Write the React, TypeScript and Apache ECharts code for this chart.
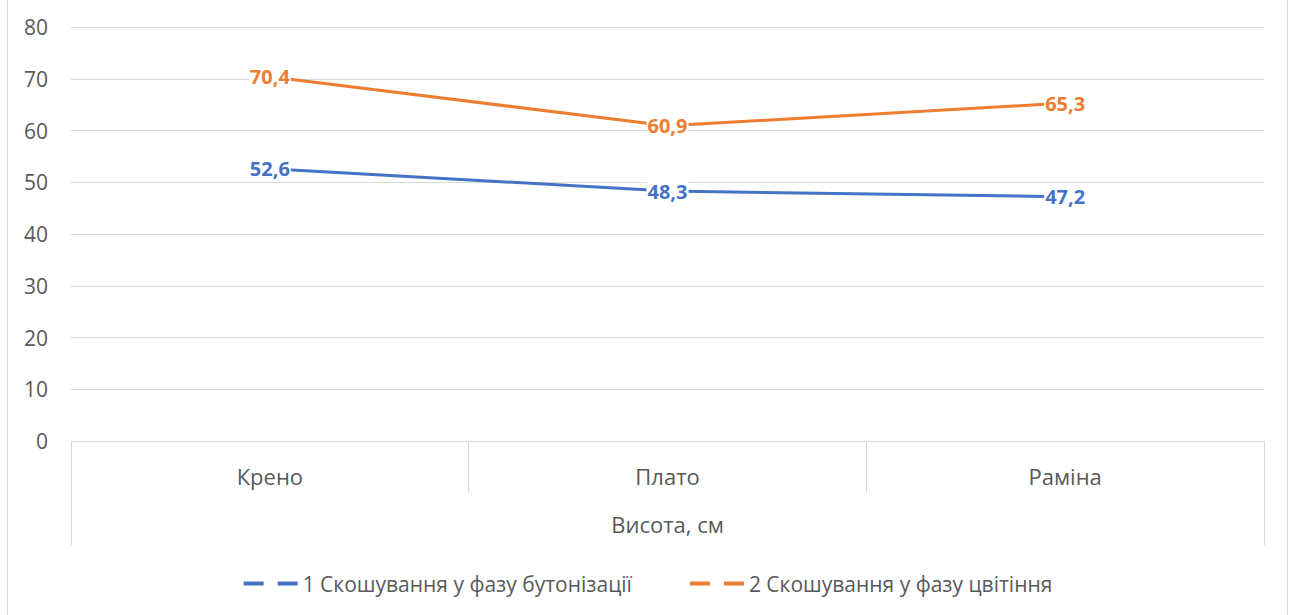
import React, { useEffect, useRef } from "react";
import * as echarts from "echarts";

const categories = ["Крено", "Плато", "Раміна"];
const outerCategory = ["Висота, см"];
const series1Name = "1 Скошування у фазу бутонізації";
const series2Name = "2 Скошування у фазу цвітіння";
const series1Values = [52.6, 48.3, 47.2];
const series2Values = [70.4, 60.9, 65.3];
const yTicks = { min: 0, max: 80, interval: 10 };

const BLUE = "#4472C4";
const ORANGE = "#ED7D31";
const GRID = "#d9d9d9";
const TEXT = "#595959";
const FONT = "'Open Sans', 'Noto Sans', sans-serif";

export default function App() {
  const ref = useRef<HTMLDivElement>(null);
  useEffect(() => {
    if (!ref.current) return;
    const chart = echarts.init(ref.current, undefined, { renderer: "svg" });
    const fmt = (p: any) => String(p.value).replace(".", ",");
    const legendIcon = "path://M0,0h20v4h-20z M34,0h20v4h-20z";
    const dataLabel = (color: string) => ({
      show: true,
      position: "inside",
      formatter: fmt,
      color,
      fontWeight: "bold",
      fontSize: 20,
      backgroundColor: "#fff",
      padding: [0, 1],
      fontFamily: FONT,
    });
    chart.setOption({
      animation: false,
      textStyle: { fontFamily: FONT },
      graphic: [
        {
          type: "rect",
          shape: { x: 7.5, y: -2, width: 1280, height: 620 },
          style: { fill: "none", stroke: GRID, lineWidth: 1 },
          silent: true,
        },
      ],
      grid: { left: 71, right: 32, top: 27, bottom: 174, containLabel: false },
      legend: {
        top: 568,
        left: "center",
        itemWidth: 54,
        itemHeight: 4,
        itemGap: 58,
        textStyle: { color: TEXT, fontSize: 21, fontFamily: FONT },
        data: [
          { name: series1Name, icon: legendIcon },
          { name: series2Name, icon: legendIcon },
        ],
      },
      xAxis: [
        {
          type: "category",
          data: categories,
          boundaryGap: true,
          axisLine: { show: true, lineStyle: { color: GRID, width: 1 } },
          axisTick: { show: true, length: 51, lineStyle: { color: GRID } },
          axisLabel: { color: TEXT, fontSize: 22, margin: 24, fontFamily: FONT },
        },
        {
          type: "category",
          data: outerCategory,
          position: "bottom",
          boundaryGap: true,
          axisLine: { show: false },
          axisTick: { show: true, length: 104, lineStyle: { color: GRID } },
          axisLabel: { color: TEXT, fontSize: 22, margin: 72, fontFamily: FONT },
        },
      ],
      yAxis: {
        type: "value",
        min: yTicks.min,
        max: yTicks.max,
        interval: yTicks.interval,
        axisLine: { show: false },
        axisTick: { show: false },
        splitLine: { lineStyle: { color: GRID, width: 1 } },
        axisLabel: { color: TEXT, fontSize: 21, margin: 23, fontFamily: FONT },
      },
      series: [
        {
          name: series1Name,
          type: "line",
          data: series1Values,
          xAxisIndex: 0,
          symbol: "circle",
          symbolSize: 1,
          lineStyle: { color: BLUE, width: 3 },
          itemStyle: { color: BLUE },
          label: dataLabel(BLUE),
        },
        {
          name: series2Name,
          type: "line",
          data: series2Values,
          xAxisIndex: 0,
          symbol: "circle",
          symbolSize: 1,
          lineStyle: { color: ORANGE, width: 3 },
          itemStyle: { color: ORANGE },
          label: dataLabel(ORANGE),
        },
      ],
    });
    return () => chart.dispose();
  }, []);
  return (
    <div
      ref={ref}
      style={{ position: "fixed", left: 0, top: 0, width: 1296, height: 615, background: "#fff" }}
    />
  );
}
